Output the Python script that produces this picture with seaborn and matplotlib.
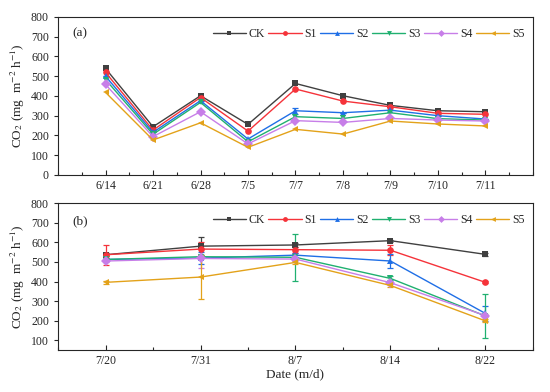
import numpy as np
import pandas as pd
import seaborn as sb
from matplotlib import pyplot as plt
from matplotlib.ticker import MultipleLocator

treatments = ['CK', 'S1', 'S2', 'S3', 'S4', 'S5']
colors = ['#404040', '#f5333a', '#1f6fe6', '#20b070', '#c77ee8', '#e3a21a']
markers = ['s', 'o', '^', 'v', 'D', '<']

# -------------- panel (a) data -----------------
dates_a = ['6/14', '6/21', '6/28', '7/5', '7/7', '7/8', '7/9', '7/10', '7/11']
ck_a = [539, 244, 401, 256, 463, 401, 352, 325, 320]
s1_a = [519, 227, 392, 222, 435, 374, 345, 312, 307]
s2_a = [500, 216, 376, 182, 325, 315, 328, 300, 283]
s3_a = [483, 206, 367, 168, 295, 286, 315, 285, 278]
s4_a = [458, 194, 320, 157, 275, 266, 286, 278, 273]
s5_a = [418, 177, 264, 140, 231, 207, 273, 258, 248]
sd_a = {'S2': [0, 0, 0, 0, 15, 0, 0, 0, 0]}

# -------------- panel (b) data -----------------
dates_b = ['7/20', '7/31', '8/7', '8/14', '8/22']
ck_b = [537, 581, 587, 609, 539]
s1_b = [537, 566, 563, 560, 396]
s2_b = [513, 520, 535, 505, 237]
s3_b = [513, 527, 524, 416, 224]
s4_b = [505, 518, 515, 394, 226]
s5_b = [396, 423, 498, 380, 199]
sd_b = {
    'CK': [8, 45, 10, 5, 8],
    'S1': [50, 35, 15, 25, 5],
    'S2': [8, 30, 10, 35, 40],
    'S3': [5, 8, 120, 10, 111],
    'S4': [5, 50, 8, 8, 8],
    'S5': [8, 113, 10, 8, 8],
}


def long_frame(dates, series):
    rows = []
    for name, vals in zip(treatments, series):
        for i, v in enumerate(vals):
            rows.append({'x': i, 'date': dates[i], 'trt': name, 'value': v})
    return pd.DataFrame(rows)


df_a = long_frame(dates_a, [ck_a, s1_a, s2_a, s3_a, s4_a, s5_a])
df_b = long_frame(dates_b, [ck_b, s1_b, s2_b, s3_b, s4_b, s5_b])

sb.set_style('ticks')
plt.rcParams['font.family'] = ['Liberation Serif', 'DejaVu Serif']
plt.rcParams['mathtext.fontset'] = 'stix'

fig = plt.figure(figsize=(5.5, 3.92), dpi=100)
ax_a = fig.add_axes([0.1055, 0.5536, 0.8635, 0.4034])
ax_b = fig.add_axes([0.1055, 0.107, 0.8635, 0.3744])

palette = dict(zip(treatments, colors))
mk = dict(zip(treatments, markers))


def draw(ax, df, dates, sd):
    sb.lineplot(data=df, x='x', y='value', hue='trt', style='trt',
                palette=palette, markers=mk, dashes=False, ax=ax,
                linewidth=1.0, markersize=4.8, markeredgewidth=0)
    for name in treatments:
        if name not in sd:
            continue
        sub = df[df.trt == name]
        ax.errorbar(sub.x, sub.value, yerr=sd[name], fmt='none',
                    ecolor=palette[name], elinewidth=0.9, capsize=2.2,
                    capthick=0.9, zorder=1)
    ax.set_xticks(range(len(dates)))
    ax.set_xticklabels(dates)
    ax.xaxis.set_minor_locator(MultipleLocator(0.5))
    ax.yaxis.set_major_locator(MultipleLocator(100))
    ax.tick_params(axis='x', which='both', direction='in', labelsize=8.5)
    ax.tick_params(axis='x', which='major', length=3.5, width=0.8)
    ax.tick_params(axis='x', which='minor', length=2, width=0.8)
    ax.tick_params(axis='y', direction='out', length=3, width=0.8, labelsize=8.5)
    for s in ax.spines.values():
        s.set_linewidth(0.8)
    ax.set_ylabel(r'CO$_2$ (mg  m$^{-2}$ h$^{-1}$)', fontsize=9.5, labelpad=3)
    leg = ax.legend(ncol=6, loc='upper right', frameon=False, fontsize=8.5,
                    handlelength=2.8, handletextpad=0.25, columnspacing=0.3,
                    borderaxespad=0.3, bbox_to_anchor=(1.0, 0.98))
    for h in leg.legend_handles:
        h.set_linewidth(1.0)
        h.set_markersize(3.5)


draw(ax_a, df_a, dates_a, sd_a)
ax_a.set_xlim(-1, len(dates_a))
ax_a.set_ylim(0, 800)
ax_a.set_xlabel('')
ax_a.text(0.03, 0.88, '(a)', transform=ax_a.transAxes, fontsize=9.5)

draw(ax_b, df_b, dates_b, sd_b)
ax_b.set_xlim(-0.5, len(dates_b) - 0.5)
ax_b.set_ylim(50, 800)
ax_b.set_yticks(range(100, 801, 100))
ax_b.set_xlabel('Date (m/d)', fontsize=9.5, labelpad=1)
ax_b.text(0.03, 0.86, '(b)', transform=ax_b.transAxes, fontsize=9.5)

plt.savefig('out.png', dpi=100)
